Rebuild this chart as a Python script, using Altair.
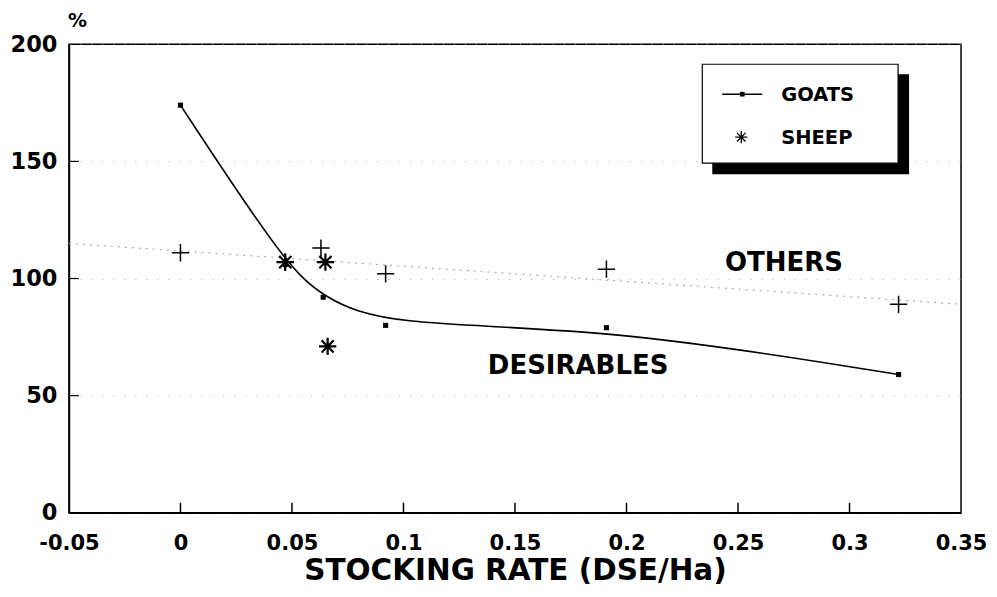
import altair as alt
import pandas as pd

# ---- data ----
goats_x = [0, 0.047, 0.064, 0.092, 0.191, 0.322]
goats_y = [174, 106, 92, 80, 79, 59]
sheep_x = [0.047, 0.065, 0.066]
sheep_y = [107, 107, 71]
others_x = [0, 0.047, 0.063, 0.092, 0.191, 0.322]
others_y = [111, 107, 113, 102, 104, 89]
trend_x = [-0.05, 0.35]
trend_y = [115, 89]
label_text = ["OTHERS", "DESIRABLES"]
label_x = [0.2706, 0.1783]
label_y = [106.6, 62.7]
x_ticks = [-0.05, 0, 0.05, 0.1, 0.15, 0.2, 0.25, 0.3, 0.35]
y_ticks = [0, 50, 100, 150, 200]

W, H = 893, 469
FONT = "DejaVu Sans"

goats = pd.DataFrame({"x": goats_x, "y": goats_y})
sheep = pd.DataFrame({"x": sheep_x, "y": sheep_y})
others = pd.DataFrame({"x": others_x, "y": others_y})
trend = pd.DataFrame({"x": trend_x, "y": trend_y})
labels = pd.DataFrame({"t": label_text, "x": label_x, "y": label_y})
xt = pd.DataFrame({"x": x_ticks[1:-1]})
yt = pd.DataFrame({"y": y_ticks[1:-1]})

xs = alt.Scale(domain=[-0.05, 0.35], nice=False, zero=False)
ys = alt.Scale(domain=[0, 200], nice=False)

X = alt.X("x:Q", scale=xs, axis=alt.Axis(
    values=x_ticks, title="STOCKING RATE (DSE/Ha)", ticks=False, grid=False,
    labelExpr="replace(format(datum.value, '.2~f'), '\u2212', '-')",
    labelFont=FONT, labelFontSize=21, labelFontWeight="bold", labelColor="black",
    labelPadding=20, labelFlush=False, domainColor="black", domainWidth=1.5,
    titleFont=FONT, titleFontSize=29.5, titleFontWeight="bold", titleColor="black",
    titlePadding=3))
Y = alt.Y("y:Q", scale=ys, axis=alt.Axis(
    values=y_ticks, title="%", titleAngle=0, titleX=8, titleY=-24,
    titleAlign="center", titleBaseline="middle",
    titleFont=FONT, titleFontSize=19, titleFontWeight="bold", titleColor="black",
    ticks=False, grid=True, gridColor="#aaa", gridDash=[1, 10], gridWidth=1,
    labelFont=FONT, labelFontSize=22.5, labelFontWeight="bold", labelColor="black",
    labelPadding=12, labelFlush=False, domainColor="black", domainWidth=1.5))

trend_l = alt.Chart(trend).mark_line(color="#aaa", strokeDash=[2, 5], strokeWidth=1.2).encode(x=X, y=Y)
goats_l = alt.Chart(goats).mark_line(color="black", strokeWidth=1.6, interpolate="basis").encode(
    x=alt.X("x:Q", scale=xs), y=alt.Y("y:Q", scale=ys))
goats_p = alt.Chart(goats).mark_square(color="black", size=26, opacity=1).encode(
    x=alt.X("x:Q", scale=xs), y=alt.Y("y:Q", scale=ys))

PLUS = "M -1 0 L 1 0 M 0 -1 L 0 1"
AST = "M -1 0 L 1 0 M 0 -1 L 0 1 M -0.7 -0.7 L 0.7 0.7 M -0.7 0.7 L 0.7 -0.7"

others_p = alt.Chart(others).mark_point(shape=PLUS, size=300, stroke="black", strokeWidth=1.5,
                                        filled=False, opacity=1).encode(
    x=alt.X("x:Q", scale=xs), y=alt.Y("y:Q", scale=ys))
sheep_p = alt.Chart(sheep).mark_point(shape=AST, size=300, stroke="black", strokeWidth=2.2,
                                      filled=False, opacity=1).encode(
    x=alt.X("x:Q", scale=xs), y=alt.Y("y:Q", scale=ys))

lab = alt.Chart(labels).mark_text(font=FONT, fontWeight="bold", fontSize=26, color="black",
                                  align="center", baseline="middle").encode(
    x=alt.X("x:Q", scale=xs), y=alt.Y("y:Q", scale=ys), text="t:N")

xtick = alt.Chart(xt).mark_rule(color="black", strokeWidth=1.5).encode(
    x=alt.X("x:Q", scale=xs), y=alt.value(H), y2=alt.value(H - 10))
ytick = alt.Chart(yt).mark_rule(color="black", strokeWidth=1.2).encode(
    y=alt.Y("y:Q", scale=ys), x=alt.value(0), x2=alt.value(10))

one = alt.Data(values=[{"a": 1}])
shadow = alt.Chart(one).mark_rect(color="black").encode(
    x=alt.value(644), x2=alt.value(841), y=alt.value(30), y2=alt.value(130))
box = alt.Chart(one).mark_rect(fill="white", stroke="black", strokeWidth=1.2).encode(
    x=alt.value(634), x2=alt.value(830), y=alt.value(20), y2=alt.value(119))
leg_line = alt.Chart(one).mark_rule(color="black", strokeWidth=1.5).encode(
    x=alt.value(654), x2=alt.value(694), y=alt.value(50))
leg_sq = alt.Chart(one).mark_square(color="black", size=22, opacity=1).encode(
    x=alt.value(674), y=alt.value(50))
leg_ast = alt.Chart(one).mark_point(shape=AST, size=150, stroke="black", strokeWidth=1.3,
                                    filled=False, opacity=1).encode(
    x=alt.value(673), y=alt.value(93))
leg_t1 = alt.Chart(one).mark_text(text="GOATS", font=FONT, fontWeight="bold", fontSize=19.5,
                                  color="black", align="left", baseline="middle").encode(
    x=alt.value(713), y=alt.value(51))
leg_t2 = alt.Chart(one).mark_text(text="SHEEP", font=FONT, fontWeight="bold", fontSize=19.5,
                                  color="black", align="left", baseline="middle").encode(
    x=alt.value(713), y=alt.value(94))

chart = alt.layer(
    trend_l, goats_l, goats_p, others_p, sheep_p, lab, xtick, ytick,
    shadow, box, leg_line, leg_sq, leg_ast, leg_t1, leg_t2
).properties(
    width=W, height=H,
    autosize=alt.AutoSizeParams(type="none"),
    padding={"left": 61, "top": 36, "right": 28, "bottom": 76},
    background="white",
).configure_view(stroke="black", strokeWidth=1.5)

chart.save("out.html", embed_options={"renderer": "svg", "actions": False})
